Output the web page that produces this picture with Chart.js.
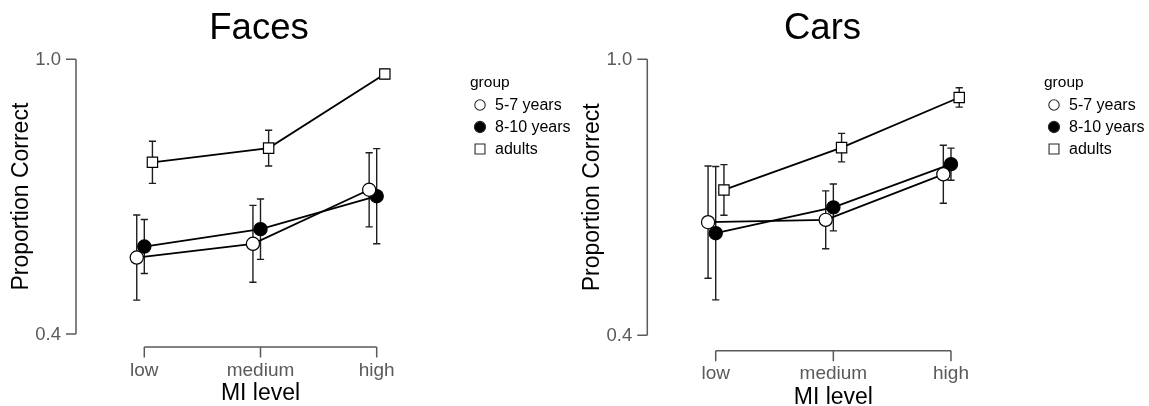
<!DOCTYPE html>
<html>
<head>
<meta charset="utf-8">
<title>Proportion Correct by MI level</title>
<script src="https://cdn.jsdelivr.net/npm/chart.js@4.4.1/dist/chart.umd.min.js"></script>
<style>
  html, body { margin: 0; padding: 0; background: #ffffff; }
  #wrap { position: relative; width: 1149px; height: 406px; overflow: hidden; }
  #wrap canvas { position: absolute; top: 0; }
</style>
</head>
<body>
<div id="wrap">
  <canvas id="faces" width="574" height="406" style="left:0px"></canvas>
  <canvas id="cars" width="575" height="406" style="left:574px"></canvas>
</div>
<script>
// ---- data ----
const categories = ['low', 'medium', 'high'];
const groups = ['5-7 years', '8-10 years', 'adults'];
const yTicks = [0.4, 1.0];

// Faces: mean proportion correct and confidence-interval half-widths
const facesYoung    = [0.567, 0.597, 0.715];
const facesYoungCI  = [0.093, 0.084, 0.081];
const facesOlder    = [0.591, 0.629, 0.701];
const facesOlderCI  = [0.059, 0.066, 0.104];
const facesAdults   = [0.775, 0.806, 0.968];
const facesAdultsCI = [0.046, 0.039, 0.010];

// Cars: mean proportion correct and confidence-interval half-widths
const carsYoung    = [0.646, 0.651, 0.750];
const carsYoungCI  = [0.122, 0.063, 0.063];
const carsOlder    = [0.622, 0.678, 0.772];
const carsOlderCI  = [0.145, 0.051, 0.035];
const carsAdults   = [0.716, 0.808, 0.917];
const carsAdultsCI = [0.055, 0.031, 0.021];

// ---- styles ----
const FONT = '"Liberation Sans", Arial, Helvetica, sans-serif';
const AXIS_GREY = '#5a5a5a';
const groupStyles = [
  { pointStyle: 'circle', radius: 6.6, fill: '#ffffff', legendRadius: 5.2 },
  { pointStyle: 'circle', radius: 6.6, fill: '#000000', legendRadius: 5.6 },
  { pointStyle: 'rect',   radius: 7.3, fill: '#ffffff', legendRadius: 7.0 }
];
// horizontal dodge of the groups around each category (in category units)
const dodge = [-0.065, 0, 0.07];

const panelLayout = {
  faces: { padding: { left: 86.2, right: 139.2, top: 59.3, bottom: 72 },   yAxisX: 76,   xAxisY: 347,   titleX: 259 },
  cars:  { padding: { left: 82.9, right: 139.2, top: 59.3, bottom: 70.7 }, yAxisX: 73.3, xAxisY: 350.7, titleX: 248.5 }
};

function buildDatasets(means, cis) {
  return means.map((m, g) => ({
    label: groups[g],
    data: m.map((v, i) => ({ x: i + dodge[g], y: v })),
    ci: cis[g],
    borderColor: '#000000',
    borderWidth: 1.8,
    pointStyle: groupStyles[g].pointStyle,
    pointRadius: groupStyles[g].radius,
    pointHoverRadius: groupStyles[g].radius,
    pointBackgroundColor: groupStyles[g].fill,
    pointBorderColor: '#000000',
    pointBorderWidth: 1.2,
    tension: 0,
    fill: false,
    clip: false
  }));
}

// Range-frame axes, error bars, titles and group legend
const framePlugin = {
  id: 'frame',
  beforeDatasetsDraw(chart) {
    const { ctx, scales: { x, y } } = chart;
    ctx.save();
    ctx.strokeStyle = '#1e1e1e';
    ctx.lineWidth = 1.4;
    chart.data.datasets.forEach(ds => {
      ds.data.forEach((p, i) => {
        const px = x.getPixelForValue(p.x);
        const top = y.getPixelForValue(p.y + ds.ci[i]);
        const bot = y.getPixelForValue(p.y - ds.ci[i]);
        ctx.beginPath();
        ctx.moveTo(px, top); ctx.lineTo(px, bot);
        ctx.moveTo(px - 3.6, top); ctx.lineTo(px + 3.6, top);
        ctx.moveTo(px - 3.6, bot); ctx.lineTo(px + 3.6, bot);
        ctx.stroke();
      });
    });
    ctx.restore();
  },
  afterDraw(chart, args, opts) {
    const { ctx, scales: { x, y } } = chart;
    const L = opts.layout;
    ctx.save();

    // y axis
    const yTop = y.getPixelForValue(yTicks[yTicks.length - 1]);
    const yBot = y.getPixelForValue(yTicks[0]);
    ctx.strokeStyle = AXIS_GREY;
    ctx.lineWidth = 1.5;
    ctx.beginPath();
    ctx.moveTo(L.yAxisX, yTop); ctx.lineTo(L.yAxisX, yBot);
    yTicks.forEach(t => {
      const py = y.getPixelForValue(t);
      ctx.moveTo(L.yAxisX - 10, py); ctx.lineTo(L.yAxisX, py);
    });
    ctx.stroke();
    ctx.fillStyle = AXIS_GREY;
    ctx.font = '18.5px ' + FONT;
    ctx.textAlign = 'right';
    ctx.textBaseline = 'middle';
    yTicks.forEach(t => ctx.fillText(t.toFixed(1), L.yAxisX - 15, y.getPixelForValue(t) + 1));

    // x axis
    const xL = x.getPixelForValue(0);
    const xR = x.getPixelForValue(categories.length - 1);
    ctx.beginPath();
    ctx.moveTo(xL, L.xAxisY); ctx.lineTo(xR, L.xAxisY);
    categories.forEach((c, i) => {
      const px = x.getPixelForValue(i);
      ctx.moveTo(px, L.xAxisY); ctx.lineTo(px, L.xAxisY + 10.5);
    });
    ctx.stroke();
    ctx.font = '19px ' + FONT;
    ctx.textAlign = 'center';
    ctx.textBaseline = 'alphabetic';
    categories.forEach((c, i) => ctx.fillText(c, x.getPixelForValue(i), L.xAxisY + 28.7));

    // axis titles
    ctx.fillStyle = '#000000';
    ctx.font = '23px ' + FONT;
    ctx.fillText('MI level', (xL + xR) / 2, L.xAxisY + 53);
    ctx.save();
    ctx.translate(L.yAxisX - 48, (yTop + yBot) / 2);
    ctx.rotate(-Math.PI / 2);
    ctx.fillText('Proportion Correct', 0, 0);
    ctx.restore();

    // panel title
    ctx.font = '36.5px ' + FONT;
    ctx.fillText(opts.title, L.titleX, 39);

    // legend
    const lx = 470;
    ctx.textAlign = 'left';
    ctx.font = '15.5px ' + FONT;
    ctx.fillText('group', lx, 87);
    ctx.font = '16px ' + FONT;
    const rowY = [105, 127, 149];
    chart.data.datasets.forEach((ds, g) => {
      const st = groupStyles[g];
      ctx.fillStyle = st.fill;
      ctx.strokeStyle = '#2a2a2a';
      ctx.lineWidth = 1.1;
      Chart.helpers.drawPoint(ctx, { pointStyle: st.pointStyle, radius: st.legendRadius, borderWidth: 1.1, rotation: 0 }, lx + 10, rowY[g]);
      ctx.fillStyle = '#000000';
      ctx.textBaseline = 'middle';
      ctx.fillText(ds.label, lx + 25, rowY[g] + 1);
    });
    ctx.restore();
  }
};

function makePanel(id, title, means, cis) {
  const L = panelLayout[id];
  return new Chart(document.getElementById(id), {
    type: 'line',
    data: { datasets: buildDatasets(means, cis) },
    options: {
      responsive: false,
      devicePixelRatio: 1,
      animation: false,
      events: [],
      layout: { padding: L.padding },
      scales: {
        x: { type: 'linear', min: -0.5, max: categories.length - 0.5, display: false },
        y: { type: 'linear', min: yTicks[0], max: yTicks[yTicks.length - 1], display: false }
      },
      plugins: {
        legend: { display: false },
        tooltip: { enabled: false },
        frame: { layout: L, title: title }
      }
    },
    plugins: [framePlugin]
  });
}

makePanel('faces', 'Faces',
  [facesYoung, facesOlder, facesAdults],
  [facesYoungCI, facesOlderCI, facesAdultsCI]);
makePanel('cars', 'Cars',
  [carsYoung, carsOlder, carsAdults],
  [carsYoungCI, carsOlderCI, carsAdultsCI]);
</script>
</body>
</html>
